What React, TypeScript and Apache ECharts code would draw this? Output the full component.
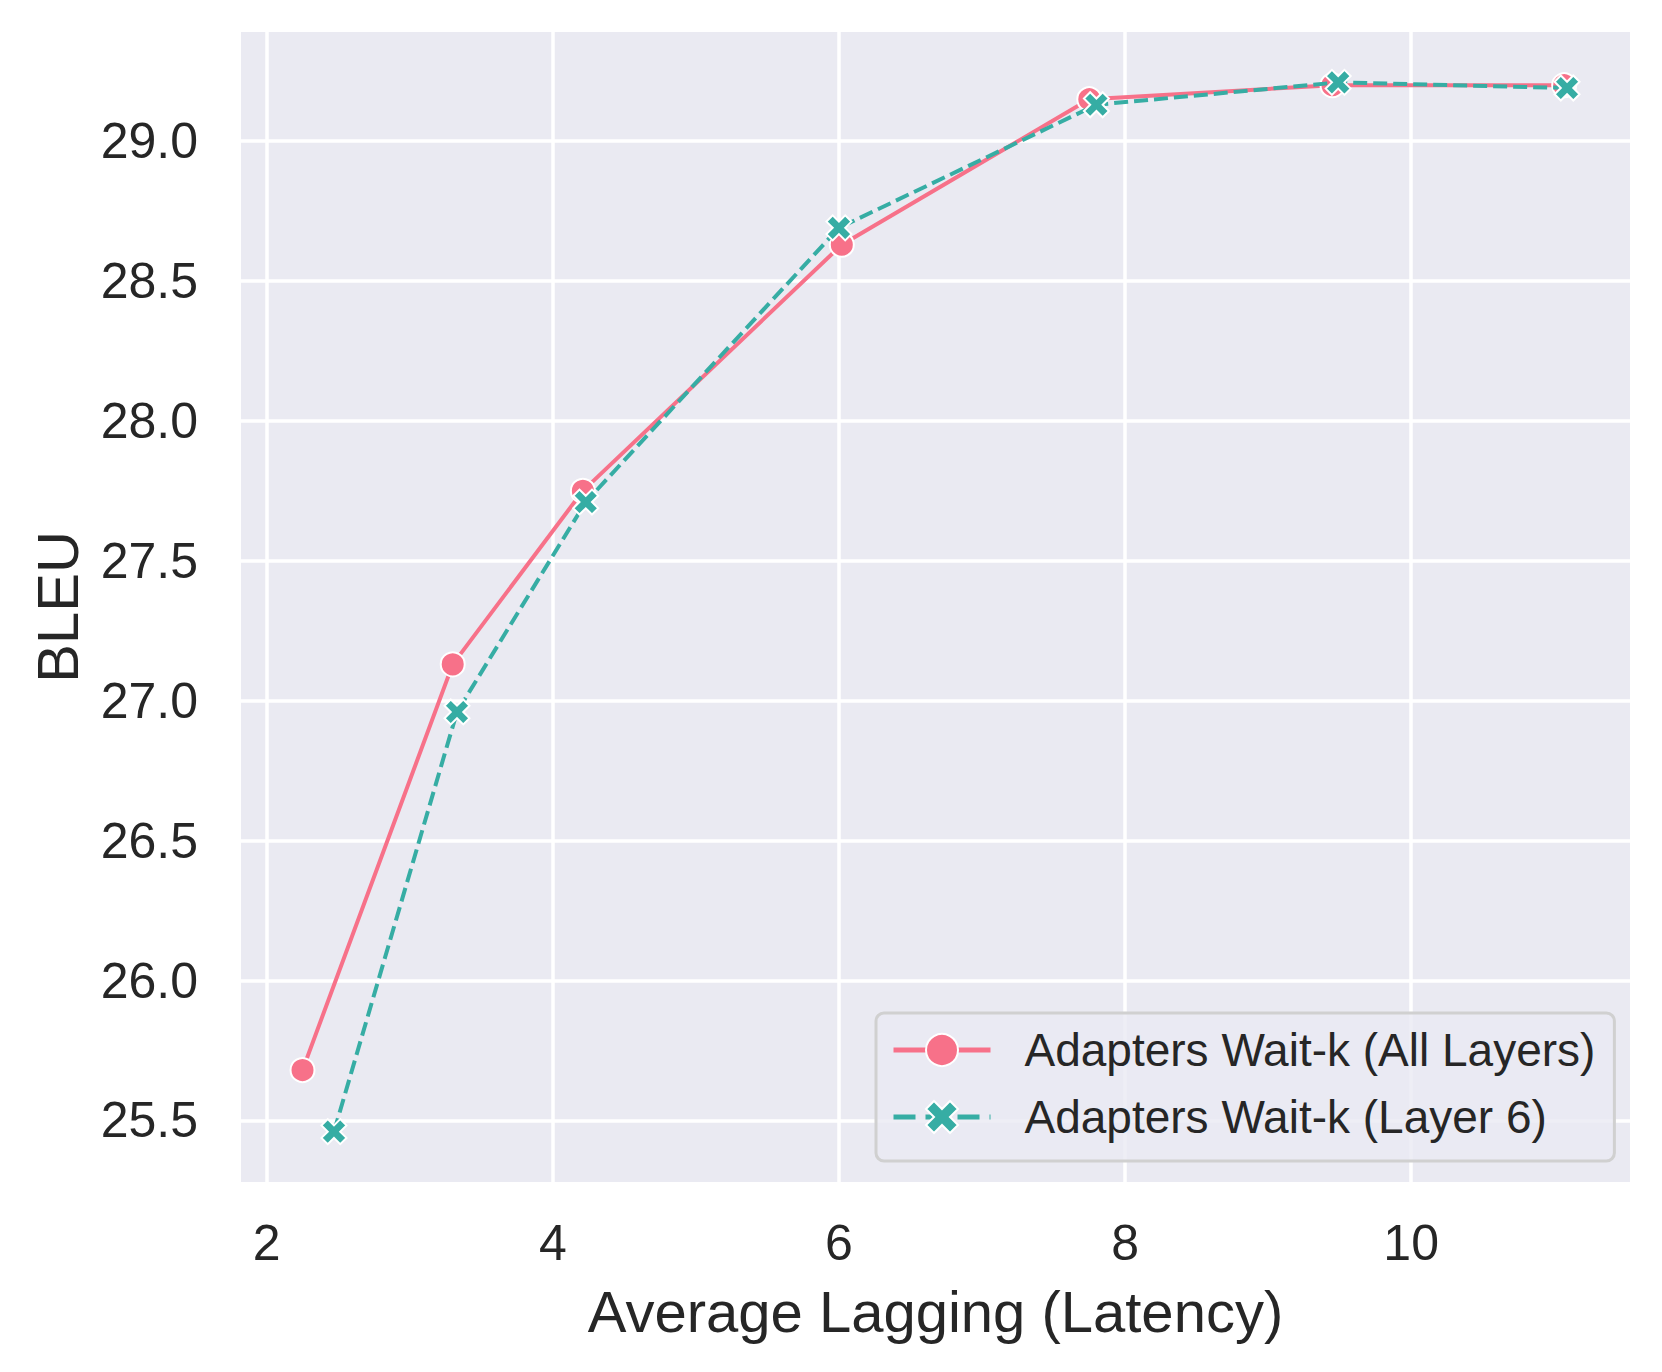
import React, { useEffect, useRef } from "react";
import * as echarts from "echarts";

const seriesNames = ["Adapters Wait-k (All Layers)", "Adapters Wait-k (Layer 6)"];
const allLayersX = [2.25, 3.3, 4.21, 6.02, 7.75, 9.45, 11.07];
const allLayersY = [25.68, 27.13, 27.75, 28.63, 29.15, 29.2, 29.2];
const layer6X = [2.47, 3.33, 4.23, 6.0, 7.8, 9.49, 11.09];
const layer6Y = [25.46, 26.96, 27.71, 28.69, 29.13, 29.21, 29.19];
const xTicks = [2, 4, 6, 8, 10];
const yTicks = [25.5, 26.0, 26.5, 27.0, 27.5, 28.0, 28.5, 29.0];
const xLabel = "Average Lagging (Latency)";
const yLabel = "BLEU";

const FONT = "'Liberation Sans', Arial, sans-serif";
const TEXT = "#262626";
const PINK = "#f77189";
const TEAL = "#36ada4";
const X_SYMBOL =
  "path://M75 50L100 25L75 0L50 25L25 0L0 25L25 50L0 75L25 100L50 75L75 100L100 75Z";

export default function App() {
  const ref = useRef<HTMLDivElement>(null);
  useEffect(() => {
    if (!ref.current) return;
    const chart = echarts.init(ref.current, undefined, { renderer: "svg" });
    const zip = (xs: number[], ys: number[]) => xs.map((x, i) => [x, ys[i]]);
    chart.setOption({
      animation: false,
      backgroundColor: "#ffffff",
      textStyle: { fontFamily: FONT, color: TEXT },
      grid: {
        left: 241,
        right: 32,
        top: 32,
        bottom: 190,
        show: true,
        backgroundColor: "#EAEAF2",
        borderWidth: 0,
      },
      xAxis: {
        type: "value",
        min: 1.82,
        max: 11.53,
        name: xLabel,
        nameLocation: "middle",
        nameGap: 100,
        nameTextStyle: { fontSize: 58, color: TEXT, fontFamily: FONT },
        axisLine: { show: false },
        axisTick: { show: false, customValues: xTicks },
        axisLabel: {
          customValues: xTicks,
          fontSize: 50,
          color: TEXT,
          fontFamily: FONT,
          margin: 36,
        },
        splitLine: { show: true, lineStyle: { color: "#ffffff", width: 3.5 } },
      },
      yAxis: {
        type: "value",
        min: 25.28,
        max: 29.39,
        name: yLabel,
        nameLocation: "middle",
        nameRotate: 90,
        nameGap: 155,
        nameTextStyle: { fontSize: 58, color: TEXT, fontFamily: FONT },
        axisLine: { show: false },
        axisTick: { show: false, customValues: yTicks },
        axisLabel: {
          customValues: yTicks,
          fontSize: 50,
          color: TEXT,
          fontFamily: FONT,
          margin: 43,
          formatter: (v: number) => v.toFixed(1),
        },
        splitLine: { show: true, lineStyle: { color: "#ffffff", width: 3.5 } },
      },
      legend: {
        orient: "vertical",
        left: 876,
        top: 1013,
        padding: [12, 19, 19, 15],
        itemWidth: 97,
        itemHeight: 40,
        itemGap: 17,
        backgroundColor: "rgba(234,234,242,0.8)",
        borderColor: "#d0d0d0",
        borderWidth: 3,
        borderRadius: 8,
        textStyle: {
          fontSize: 46,
          lineHeight: 50,
          color: TEXT,
          fontFamily: FONT,
          padding: [0, 0, 0, 29],
        },
        data: [
          { name: seriesNames[0], lineStyle: { width: 5, type: "solid" } },
          { name: seriesNames[1], lineStyle: { width: 5, type: [22, 10] } },
        ],
      },
      series: [
        {
          name: seriesNames[0],
          type: "line",
          data: zip(allLayersX, allLayersY),
          symbol: "circle",
          symbolSize: 24,
          lineStyle: { color: PINK, width: 4, type: "solid" },
          itemStyle: { color: PINK, borderColor: "#ffffff", borderWidth: 2 },
          z: 3,
        },
        {
          name: seriesNames[1],
          type: "line",
          data: zip(layer6X, layer6Y),
          symbol: X_SYMBOL,
          symbolSize: 25,
          lineStyle: { color: TEAL, width: 4, type: [14, 6] },
          itemStyle: { color: TEAL, borderColor: "#ffffff", borderWidth: 2 },
          z: 4,
        },
      ],
    });
    return () => chart.dispose();
  }, []);
  return (
    <div
      ref={ref}
      style={{ position: "fixed", left: 0, top: 0, width: 1662, height: 1372 }}
    />
  );
}
